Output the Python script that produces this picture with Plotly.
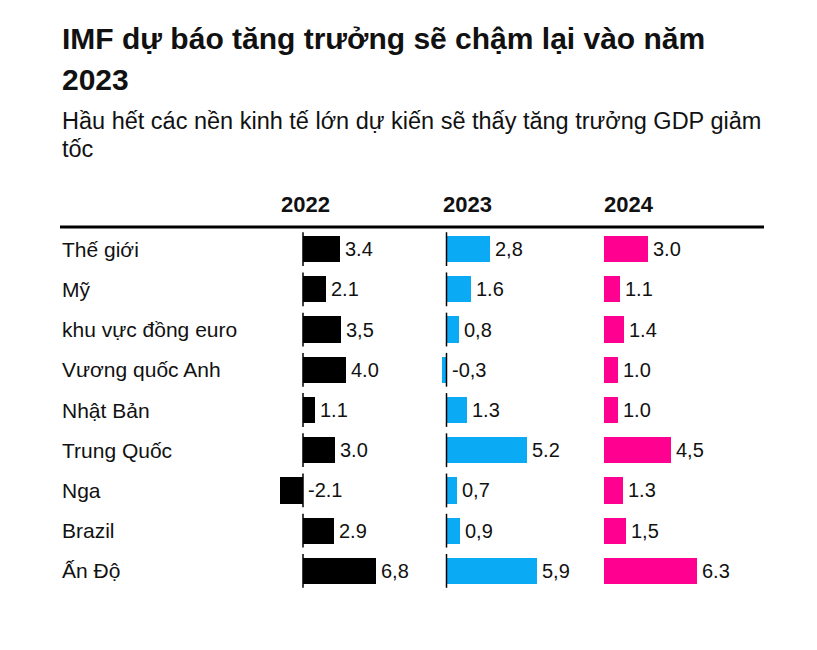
import plotly.graph_objects as go

W, H = 817, 650
OFF = 8  # page body margin in the browser

title_lines = ["IMF dự báo tăng trưởng sẽ chậm lại vào năm", "2023"]
subtitle_lines = ["Hầu hết các nền kinh tế lớn dự kiến sẽ thấy tăng trưởng GDP giảm", "tốc"]

countries = ["Thế giới", "Mỹ", "khu vực đồng euro", "Vương quốc Anh", "Nhật Bản",
             "Trung Quốc", "Nga", "Brazil", "Ấn Độ"]
years = ["2022", "2023", "2024"]

g2022 = [3.4, 2.1, 3.5, 4.0, 1.1, 3.0, -2.1, 2.9, 6.8]
g2023 = [2.8, 1.6, 0.8, -0.3, 1.3, 5.2, 0.7, 0.9, 5.9]
g2024 = [3.0, 1.1, 1.4, 1.0, 1.0, 4.5, 1.3, 1.5, 6.3]

lab2022 = ["3.4", "2.1", "3,5", "4.0", "1.1", "3.0", "-2.1", "2.9", "6,8"]
lab2023 = ["2,8", "1.6", "0,8", "-0,3", "1.3", "5.2", "0,7", "0,9", "5,9"]
lab2024 = ["3.0", "1.1", "1.4", "1.0", "1.0", "4,5", "1.3", "1,5", "6.3"]

colors = ["#000000", "#0AAAF5", "#FF0090"]
TXT = "#111111"
FONT = "Liberation Sans, Arial, sans-serif"


def px(x):
    return (x - OFF) / W


def py(y):
    return 1 - (y - OFF) / H


# panel geometry (pixel domain, zero position, px per unit)
panels = [
    (270, 430, 303.0, 10.75),
    (437, 590, 446.5, 15.4),
    (595, 765, 603.5, 14.9),
]

series = [g2022, g2023, g2024]
labels = [lab2022, lab2023, lab2024]
idx = list(range(len(countries)))

fig = go.Figure()
layout_axes = {}
val_ann = []
for k, ((a, b, z, s), vals, labs, col) in enumerate(zip(panels, series, labels, colors)):
    xa = "x" if k == 0 else f"x{k+1}"
    fig.add_trace(go.Bar(
        x=vals, y=idx, orientation="h", width=0.65,
        marker=dict(color=col, line=dict(width=0)),
        xaxis=xa, yaxis="y", hoverinfo="skip", showlegend=False,
    ))
    for i, v, t in zip(idx, vals, labs):
        val_ann.append(dict(text=t, x=max(v, 0), y=i, xref=xa, yref="y",
                            xanchor="left", yanchor="middle", xshift=3, showarrow=False,
                            font=dict(size=20, color=TXT, family=FONT)))
    name = "xaxis" if k == 0 else f"xaxis{k+1}"
    layout_axes[name] = dict(
        domain=[px(a), px(b)], range=[(a - z) / s, (b - z) / s],
        visible=False, anchor="y", fixedrange=True,
    )
    # zero line segments (panels 1 and 2)
    if k < 2:
        for i in idx:
            fig.add_shape(type="line", xref=xa, yref="y", x0=0, x1=0,
                          y0=i - 0.42, y1=i + 0.42,
                          line=dict(color="#000000", width=1.5), layer="above")

fig.update_layout(**layout_axes)
fig.update_layout(
    yaxis=dict(domain=[py(591), py(229)], range=[8.5, -0.5], visible=False,
               anchor="x", fixedrange=True),
    width=W, height=H, margin=dict(l=0, r=0, t=0, b=0),
    paper_bgcolor="white", plot_bgcolor="white", bargap=0,
)

ann = []
for t, yy in zip(title_lines, [38, 80]):
    ann.append(dict(text="<b>" + t + "</b>", x=px(60), y=py(yy), xref="paper", yref="paper",
                    xanchor="left", yanchor="middle", showarrow=False,
                    font=dict(size=30, color=TXT, family=FONT)))
for t, yy in zip(subtitle_lines, [121, 149]):
    ann.append(dict(text=t, x=px(60), y=py(yy), xref="paper", yref="paper",
                    xanchor="left", yanchor="middle", showarrow=False,
                    font=dict(size=23.5, color=TXT, family=FONT)))
for t, xx in zip(years, [279, 441, 602]):
    ann.append(dict(text="<b>" + t + "</b>", x=px(xx), y=py(205), xref="paper", yref="paper",
                    xanchor="left", yanchor="middle", showarrow=False,
                    font=dict(size=22, color=TXT, family=FONT)))
for i, c in zip(idx, countries):
    ann.append(dict(text=c, x=px(60), y=i, xref="paper", yref="y",
                    xanchor="left", yanchor="middle", showarrow=False,
                    font=dict(size=21, color=TXT, family=FONT)))
fig.update_layout(annotations=ann + val_ann)

fig.add_shape(type="line", xref="paper", yref="paper", x0=px(60), x1=px(764),
              y0=py(227), y1=py(227), line=dict(color="#000000", width=3))

fig.write_html("out.html")
